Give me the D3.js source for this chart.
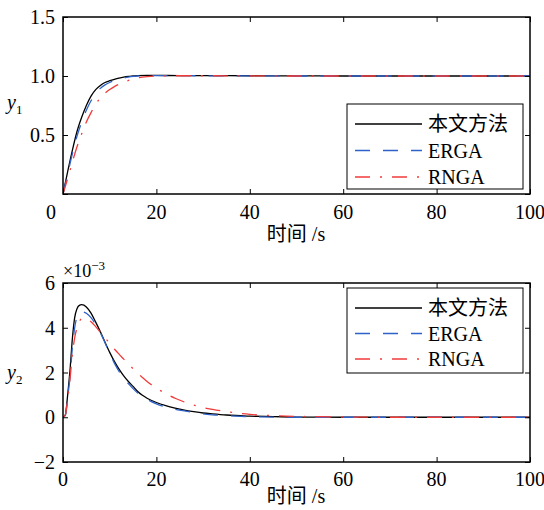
<!DOCTYPE html>
<html>
<head>
<meta charset="utf-8">
<script src="https://cdn.jsdelivr.net/npm/d3@7"></script>
<style>
  body { margin: 0; background: #fff; }
  text { font-family: "Liberation Serif", "Times New Roman", serif; }
  .cjk { font-family: "Noto Sans CJK SC", sans-serif; }
</style>
</head>
<body>
<div id="chart"></div>
<script>
// ---- data ----
const seriesNames = ["本文方法", "ERGA", "RNGA"];

const tTop = [0,1,2,3,4,5,6,7,8,9,10,11,12,13,14,15,16,18,20,25,30,40,50,60,70,80,90,100];
const y1Ours = [0,0.19,0.37,0.53,0.65,0.75,0.83,0.885,0.92,0.945,0.96,0.972,0.982,0.99,0.996,1.0,1.004,1.006,1.005,1.004,1.003,1.002,1.001,1.0,1.0,1.0,1.0,1.0];
const y1Erga = [0,0.17,0.34,0.49,0.61,0.71,0.79,0.85,0.895,0.925,0.945,0.96,0.972,0.982,0.99,0.996,1.0,1.004,1.004,1.003,1.002,1.001,1.0,1.0,1.0,1.0,1.0,1.0];
const y1Rnga = [0,0.13,0.27,0.40,0.51,0.61,0.69,0.76,0.815,0.855,0.885,0.91,0.93,0.948,0.962,0.974,0.984,0.995,1.0,1.002,1.002,1.001,1.0,1.0,1.0,1.0,1.0,1.0];

const tBot = [0,0.5,1,1.5,2,2.5,3,3.5,4,5,6,7,8,9,10,11,12,13,14,15,16,17,18,20,22,24,26,28,30,32,35,38,40,45,50,60,70,80,90,100];
const y2Ours = [0,0.1,1.0,2.1,3.5,4.45,4.85,5.0,5.03,4.93,4.65,4.25,3.82,3.35,2.9,2.5,2.15,1.85,1.6,1.38,1.15,0.98,0.85,0.66,0.52,0.41,0.32,0.25,0.19,0.15,0.1,0.07,0.05,0.03,0.01,0,0,0,0,0];
const y2Erga = [0,0.1,0.9,1.8,3.1,4.0,4.5,4.68,4.72,4.65,4.45,4.15,3.78,3.33,2.85,2.42,2.05,1.75,1.5,1.28,1.08,0.92,0.8,0.6,0.46,0.36,0.28,0.21,0.15,0.11,0.07,0.04,0.03,0.01,0,0,0,0,0,0];
const y2Rnga = [0,0.1,0.8,1.7,2.8,3.55,4.0,4.28,4.4,4.42,4.27,4.05,3.8,3.55,3.3,3.05,2.82,2.6,2.38,2.17,1.97,1.78,1.6,1.3,1.06,0.85,0.68,0.54,0.43,0.35,0.25,0.17,0.13,0.07,0.04,0.01,0,0,0,0];

const xTicks = [0, 20, 40, 60, 80, 100];
const y1Ticks = [0, 0.5, 1.0, 1.5];
const y1TickLabels = ["", "0.5", "1.0", "1.5"];
const y2Ticks = [-2, 0, 2, 4, 6];
const y2TickLabels = ["\u22122", "0", "2", "4", "6"];

// ---- styles ----
const styles = [
    { color: "#000000", dash: null },
    { color: "#2f62c8", dash: "15,13" },
    { color: "#f23a3a", dash: "15,10,2,10" }
];

const W = 544, H = 510;
const svg = d3.select("#chart").append("svg")
    .attr("width", W)
    .attr("height", H);

function drawPanel(opt) {
    let x = d3.scaleLinear().domain([0, 100]).range([63, 530]);
    let y = d3.scaleLinear().domain(opt.yDomain).range([opt.bottom, opt.top]);
    let g = svg.append("g");

    // curves
    let clip = "clip" + opt.id;
    g.append("clipPath").attr("id", clip)
        .append("rect")
        .attr("x", x(0)).attr("y", opt.top)
        .attr("width", x(100) - x(0)).attr("height", opt.bottom - opt.top);

    let line = d3.line()
        .x(d => x(d[0]))
        .y(d => y(d[1]))
        .curve(d3.curveMonotoneX);

    opt.series.forEach((vals, i) => {
        g.append("path")
            .datum(opt.t.map((t, k) => [t, vals[k]]))
            .attr("clip-path", `url(#${clip})`)
            .attr("fill", "none")
            .attr("stroke", styles[i].color)
            .attr("stroke-width", 1.3)
            .attr("stroke-dasharray", styles[i].dash)
            .attr("d", line);
    });

    // inward ticks on all four sides
    g.append("g").attr("transform", `translate(0,${opt.bottom})`)
        .call(d3.axisTop(x).tickValues(xTicks).tickSize(5).tickFormat(""))
        .call(a => a.select(".domain").remove());
    g.append("g").attr("transform", `translate(0,${opt.top})`)
        .call(d3.axisBottom(x).tickValues(xTicks).tickSize(5).tickFormat(""))
        .call(a => a.select(".domain").remove());
    g.append("g").attr("transform", `translate(${x(0)},0)`)
        .call(d3.axisRight(y).tickValues(opt.yTicks).tickSize(5).tickFormat(""))
        .call(a => a.select(".domain").remove());
    g.append("g").attr("transform", `translate(${x(100)},0)`)
        .call(d3.axisLeft(y).tickValues(opt.yTicks).tickSize(5).tickFormat(""))
        .call(a => a.select(".domain").remove());
    g.selectAll(".tick line").attr("stroke", "#000").attr("stroke-width", 1);

    // frame
    g.append("rect")
        .attr("x", x(0)).attr("y", opt.top)
        .attr("width", x(100) - x(0)).attr("height", opt.bottom - opt.top)
        .attr("fill", "none")
        .attr("stroke", "#000")
        .attr("stroke-width", 1.5);

    // tick labels
    g.selectAll(".xl").data(xTicks).enter().append("text")
        .attr("x", (d, i) => x(d) + (i === 0 ? opt.zeroShift : 0))
        .attr("y", opt.bottom + opt.xLabelGap)
        .attr("text-anchor", "middle")
        .style("font-size", "20px")
        .text(d => d);
    g.selectAll(".yl").data(opt.yTicks).enter().append("text")
        .attr("x", x(0) - 8)
        .attr("y", d => y(d) + 7)
        .attr("text-anchor", "end")
        .style("font-size", "20px")
        .text((d, i) => opt.yTickLabels[i]);

    // axis titles
    let xt = g.append("text")
        .attr("x", 296)
        .attr("y", opt.bottom + opt.titleGap)
        .attr("text-anchor", "middle")
        .style("font-size", "20px");
    xt.append("tspan").attr("class", "cjk").text("时间");
    xt.append("tspan").text(" /s");

    let yt = g.append("text")
        .attr("x", 7)
        .attr("y", opt.yTitleY)
        .style("font-size", "20px");
    yt.append("tspan").style("font-style", "italic").text("y");
    yt.append("tspan").attr("dy", 5).style("font-size", "13px").text(opt.sub);

    // legend
    let lg = g.append("g").attr("transform", `translate(347,${opt.legendTop})`);
    lg.append("rect")
        .attr("width", 176).attr("height", 85)
        .attr("fill", "#fff")
        .attr("stroke", "#000")
        .attr("stroke-width", 1);
    seriesNames.forEach((name, i) => {
        let ry = 20 + i * opt.legendStep;
        lg.append("line")
            .attr("x1", 8).attr("x2", 75)
            .attr("y1", ry).attr("y2", ry)
            .attr("stroke", styles[i].color)
            .attr("stroke-width", 1.3)
            .attr("stroke-dasharray", styles[i].dash);
        lg.append("text")
            .attr("class", i === 0 ? "cjk" : null)
            .attr("x", 81)
            .attr("y", ry + 7)
            .style("font-size", "20px")
            .text(name);
    });
    return g;
}

// ======== top panel : y1 ========
drawPanel({
    id: 1, top: 17, bottom: 194, yDomain: [0, 1.5],
    t: tTop, series: [y1Ours, y1Erga, y1Rnga],
    yTicks: y1Ticks, yTickLabels: y1TickLabels,
    zeroShift: -12, xLabelGap: 25, titleGap: 47,
    yTitleY: 109, sub: "1", legendTop: 104, legendStep: 26.5
});

// ======== bottom panel : y2 (x10^-3) ========
let gb = drawPanel({
    id: 2, top: 283, bottom: 462, yDomain: [-2, 6],
    t: tBot, series: [y2Ours, y2Erga, y2Rnga],
    yTicks: y2Ticks, yTickLabels: y2TickLabels,
    zeroShift: 0, xLabelGap: 24, titleGap: 41,
    yTitleY: 379, sub: "2", legendTop: 288, legendStep: 25.5
});

let ex = gb.append("text")
    .attr("x", 63)
    .attr("y", 277)
    .style("font-size", "18px");
ex.append("tspan").text("\u00d710");
ex.append("tspan").attr("dy", -7).style("font-size", "13px").text("\u22123");
</script>
</body>
</html>
